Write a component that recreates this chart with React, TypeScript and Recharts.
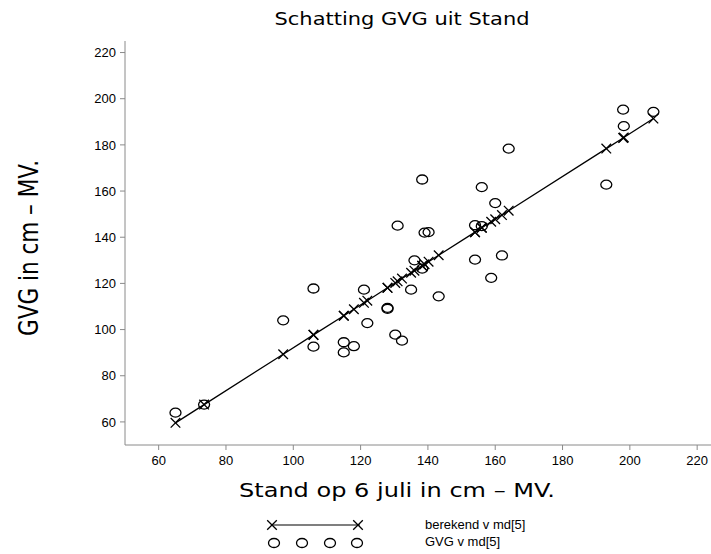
import { Scatter, ScatterChart, XAxis, YAxis } from "recharts";

// Stand op 6 juli (cm - MV), gemeten GVG en berekende GVG per peilbuis
const stand = [
  65, 73.5, 97, 106, 106, 115, 115, 118, 121, 122, 128, 128, 130.3, 131, 132.3, 135, 136,
  138.3, 138.3, 139, 140.2, 143.2, 154, 154, 156, 156, 158.8, 160, 162, 164, 193, 198, 198.2, 207,
];
const gvg = [
  64, 67.5, 104, 117.8, 92.6, 94.5, 90.1, 92.8, 117.3, 102.8, 109, 109.4, 97.8, 145, 95.2, 117.3, 130,
  126.4, 165, 142, 142.2, 114.4, 145.2, 130.3, 144.8, 161.7, 122.4, 154.8, 132.1, 178.4, 162.8, 195.3, 188.1, 194.3,
];
const berekend = [
  59.6, 67.5, 89.3, 97.7, 97.7, 106.0, 106.0, 108.8, 111.6, 112.5, 118.1, 118.1, 120.2, 120.9, 122.1, 124.6, 125.5,
  127.6, 127.6, 128.3, 129.4, 132.2, 142.2, 142.2, 144.1, 144.1, 146.7, 147.8, 149.6, 151.5, 178.4, 183.0, 183.2, 191.4,
];
const ticks = [60, 80, 100, 120, 140, 160, 180, 200, 220];

const gemeten = stand.map((x, i) => ({ x, y: gvg[i] }));
const lijn = stand.map((x, i) => ({ x, y: berekend[i] }));

const axisGrey = "#8a8a8a";
const tickFont = { fill: "#000", fontSize: 13, fontFamily: "Liberation Sans, Arial, sans-serif" };
const plotFont = "'DejaVu Sans ExtraLight', 'DejaVu Sans', sans-serif";

function Circle(props: any) {
  const { cx, cy } = props;
  return <ellipse cx={cx} cy={cy} rx={5.5} ry={4.5} fill="none" stroke="#000" strokeWidth={1.3} />;
}

function Cross(props: any) {
  const { cx, cy } = props;
  const d = 4.8;
  return (
    <path
      d={`M${cx - d},${cy - d}L${cx + d},${cy + d}M${cx - d},${cy + d}L${cx + d},${cy - d}`}
      stroke="#000"
      strokeWidth={1.3}
      fill="none"
    />
  );
}

export default function App() {
  return (
    <div style={{ position: "absolute", left: 0, top: 0, width: 711, height: 554, overflow: "hidden", background: "#fff" }}>
      <ScatterChart width={716} height={554} margin={{ top: 41, right: 2, bottom: 79, left: 65 }}>
        <XAxis
          type="number"
          dataKey="x"
          domain={[50, 225]}
          ticks={ticks}
          allowDataOverflow
          height={30}
          tickSize={5}
          tickMargin={6}
          axisLine={{ stroke: axisGrey }}
          tickLine={{ stroke: axisGrey }}
          tick={tickFont}
          label={{
            content: () => (
              <text
                x={397}
                y={497}
                textAnchor="middle"
                fontFamily={plotFont}
                fontSize={20}
                textLength={316}
                lengthAdjust="spacingAndGlyphs"
                fill="#000"
              >
                Stand op 6 juli in cm – MV.
              </text>
            ),
          }}
        />
        <YAxis
          type="number"
          dataKey="y"
          domain={[50, 225]}
          ticks={ticks}
          allowDataOverflow
          width={60}
          tickSize={5}
          tickMargin={4}
          axisLine={{ stroke: axisGrey }}
          tickLine={{ stroke: axisGrey }}
          tick={tickFont}
          label={{
            content: () => (
              <text
                x={38}
                y={248}
                transform="rotate(-90 38 248)"
                textAnchor="middle"
                fontFamily={plotFont}
                fontSize={26}
                textLength={176}
                lengthAdjust="spacingAndGlyphs"
                fill="#000"
              >
                GVG in cm – MV.
              </text>
            ),
          }}
        />
        <Scatter
          data={lijn}
          shape={Cross}
          line={{ stroke: "#000", strokeWidth: 1.3 }}
          lineType="joint"
          isAnimationActive={false}
        />
        <Scatter data={gemeten} shape={Circle} isAnimationActive={false} />
      </ScatterChart>

      <svg width={711} height={554} style={{ position: "absolute", left: 0, top: 0, pointerEvents: "none" }}>
        <text
          x={402}
          y={25}
          textAnchor="middle"
          fontFamily={plotFont}
          fontSize={17}
          textLength={255}
          lengthAdjust="spacingAndGlyphs"
          fill="#000"
        >
          Schatting GVG uit Stand
        </text>
        <line x1={272} y1={525} x2={360} y2={525} stroke="#000" strokeWidth={1.2} />
        <Cross cx={272} cy={525} />
        <Cross cx={358} cy={525} />
        <Circle cx={274} cy={543} />
        <Circle cx={302} cy={543} />
        <Circle cx={330} cy={543} />
        <Circle cx={357} cy={543} />
        <text x={425} y={529} fontFamily="Liberation Sans, Arial, sans-serif" fontSize={13} fill="#000">
          berekend v md[5]
        </text>
        <text x={425} y={546} fontFamily="Liberation Sans, Arial, sans-serif" fontSize={13} fill="#000">
          GVG v md[5]
        </text>
      </svg>
    </div>
  );
}
